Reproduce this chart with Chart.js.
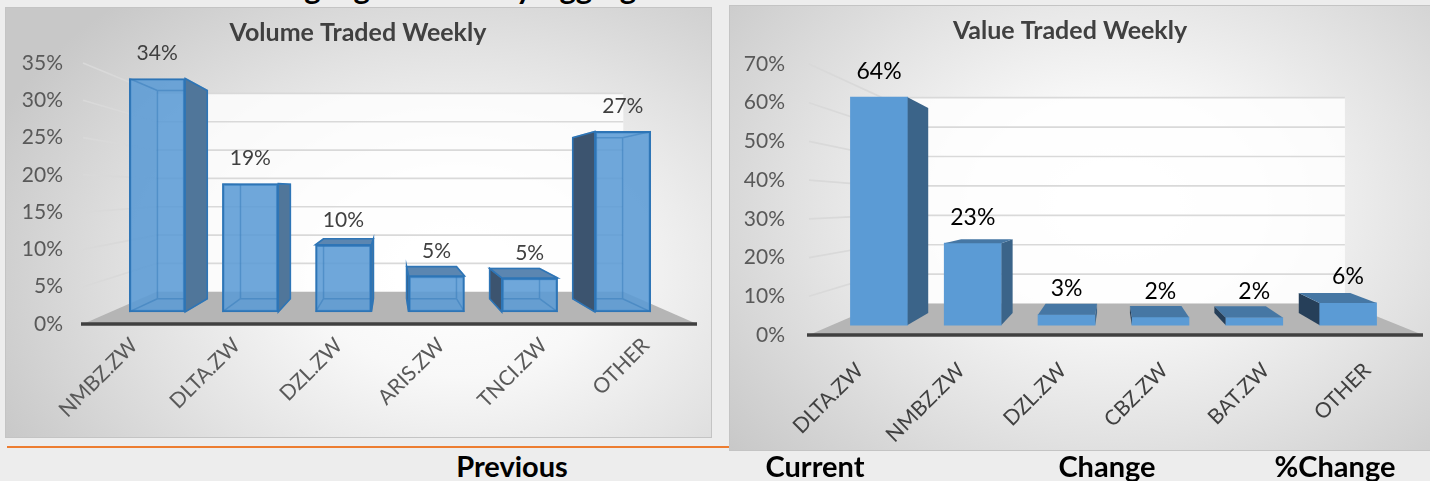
<!DOCTYPE html>
<html>
<head>
<meta charset="utf-8">
<script src="https://cdn.jsdelivr.net/npm/chart.js@4.4.1/dist/chart.umd.min.js"></script>
<style>
html,body{margin:0;padding:0;}
body{width:1430px;height:481px;overflow:hidden;background:#ededed;position:relative;font-family:Lato,'Open Sans',sans-serif;}
.panel{position:absolute;box-sizing:border-box;border:1px solid #c4c4c4;}
#p1{left:5px;top:7px;width:707px;height:431px;
 background:radial-gradient(ellipse 72% 85% at 64% 62%, #ffffff 0%, #f8f8f8 28%, #e2e2e2 62%, #c8c8c8 100%);}
#p2{left:729px;top:5px;width:706px;height:446px;
 background:radial-gradient(ellipse 72% 85% at 55% 45%, #ffffff 0%, #f8f8f8 28%, #e2e2e2 62%, #c8c8c8 100%);}
canvas{position:absolute;}
#c1{left:19px;top:7px;width:690px;height:431px;}
#c2{left:722px;top:5px;width:708px;height:446px;}
#rule{position:absolute;left:7px;top:446px;width:722px;height:2px;background:#ED7D31;}
.hdr{position:absolute;top:451px;line-height:29px;font-size:29px;font-weight:700;color:#000;transform:translateX(-50%);white-space:nowrap;}
#heading{position:absolute;top:-28.5px;left:240px;font-size:31px;line-height:31px;font-weight:700;color:#000;white-space:nowrap;}
</style>
</head>
<body>
<div id="heading">Market Highlights: Weekly Aggregates</div>
<div id="rule"></div>
<div class="panel" id="p1"></div>
<div class="panel" id="p2"></div>
<canvas id="c1" width="690" height="431"></canvas>
<canvas id="c2" width="708" height="446"></canvas>
<div class="hdr" style="left:512px">Previous</div>
<div class="hdr" style="left:815px">Current</div>
<div class="hdr" style="left:1107px">Change</div>
<div class="hdr" style="left:1335px">%Change</div>
<script>
// ---------- DATA ----------
const volumeTitle = 'Volume Traded Weekly';
const volumeCategories = ['NMBZ.ZW', 'DLTA.ZW', 'DZL.ZW', 'ARIS.ZW', 'TNCI.ZW', 'OTHER'];
const volumeValues = [34.4, 18.9, 9.9, 5.3, 5.0, 26.6];
const volumeTicks = [0, 5, 10, 15, 20, 25, 30, 35];

const valueTitle = 'Value Traded Weekly';
const valueCategories = ['DLTA.ZW', 'NMBZ.ZW', 'DZL.ZW', 'CBZ.ZW', 'BAT.ZW', 'OTHER'];
const valueValues = [63.7, 22.9, 2.9, 2.2, 2.1, 6.2];
const valueTicks = [0, 10, 20, 30, 40, 50, 60, 70];

const FONT = "Lato, 'Open Sans', sans-serif";

// position the (cropped) page heading
(function () {
  const h = document.getElementById('heading');
  const c = document.createElement('canvas').getContext('2d');
  c.font = "bold 31px Lato";
  const w = c.measureText('Market Highlights: Weekl').width;
  h.style.left = (516 - w) + 'px';
})();

function poly(ctx, pts, fill, stroke, lw) {
  ctx.beginPath();
  ctx.moveTo(pts[0][0], pts[0][1]);
  for (let i = 1; i < pts.length; i++) ctx.lineTo(pts[i][0], pts[i][1]);
  ctx.closePath();
  if (fill) { ctx.fillStyle = fill; ctx.fill(); }
  if (stroke) { ctx.strokeStyle = stroke; ctx.lineWidth = lw || 1; ctx.stroke(); }
}

function build3D(canvasId, spec) {
  const g = spec.geo, st = spec.style;
  const n = spec.categories.length;
  const yMax = spec.ticks[spec.ticks.length - 1];
  const vxC = (g.L + g.R) / 2;
  const pp = (g.B - g.T) / yMax;
  const vyC = g.B - g.eyeValue * pp;
  const zY = vyC + (g.B - vyC) * g.sF;
  const ppb = pp * g.sF;
  const catW = (g.R - g.L) / n;
  const ppx = catW * g.sF;
  const x0 = vxC + (g.L + catW / 2 - vxC) * g.sF;

  const plugin = {
    id: 'threeD',
    beforeDatasetsDraw(chart) {
      const ctx = chart.ctx, ys = chart.scales.y, ca = chart.chartArea;
      const L = ca.left, R = ca.right, B = ys.getPixelForValue(0);
      const vx = (L + R) / 2, vy = ys.getPixelForValue(g.eyeValue);
      const pr = (x, y, k) => [vx + (x - vx) * k, vy + (y - vy) * k];
      const k = g.kW;
      const [bl, bb] = pr(L, B, k);
      const [br] = pr(R, B, k);
      const [, bt] = pr(L, ys.getPixelForValue(yMax), k);
      ctx.save();
      ctx.fillStyle = 'rgba(255,255,255,0.8)';
      ctx.fillRect(bl, bt, br - bl, bb - bt);
      poly(ctx, [[L, B], [R + g.floorExt, B], [br, bb], [bl, bb]], '#b5b5b5');
      ctx.strokeStyle = '#d9d9d9';
      ctx.lineWidth = 1.7;
      spec.ticks.forEach(v => {
        if (v === 0) return;
        const y = ys.getPixelForValue(v);
        const [bx, by] = pr(L, y, k);
        ctx.beginPath();
        ctx.moveTo(L, y); ctx.lineTo(bx, by); ctx.lineTo(br, by);
        ctx.stroke();
      });
      ctx.strokeStyle = '#404040';
      ctx.lineWidth = 3.5;
      ctx.beginPath();
      ctx.moveTo(L - 2, B); ctx.lineTo(R + g.floorExt, B);
      ctx.stroke();
      ctx.restore();
    },
    afterDatasetsDraw(chart) {
      const ctx = chart.ctx, ys = chart.scales.y, ca = chart.chartArea;
      const vx = (ca.left + ca.right) / 2, vy = ys.getPixelForValue(g.eyeValue);
      const r = g.rBack;
      const meta = chart.getDatasetMeta(0);
      const data = chart.data.datasets[0].data;
      ctx.save();
      meta.data.forEach((bar, i) => {
        const p = bar.getProps(['x', 'y', 'base', 'width'], true);
        const xl = p.x - p.width / 2, xr = p.x + p.width / 2, yt = p.y, yb = p.base;
        const X = x => vx + (x - vx) * r, Y = y => vy + (y - vy) * r;
        const xl2 = X(xl), xr2 = X(xr), yt2 = Y(yt), yb2 = Y(yb);
        if (st.backEdge) {
          ctx.strokeStyle = st.backEdge; ctx.lineWidth = 1.5;
          ctx.beginPath();
          ctx.rect(xl2, yt2, xr2 - xl2, yb2 - yt2);
          ctx.moveTo(xl, yt); ctx.lineTo(xl2, yt2);
          ctx.moveTo(xl, yb); ctx.lineTo(xl2, yb2);
          ctx.moveTo(xr, yt); ctx.lineTo(xr2, yt2);
          ctx.moveTo(xr, yb); ctx.lineTo(xr2, yb2);
          ctx.stroke();
        }
        if (xr < vx) {
          poly(ctx, [[xr, yt], [xr2, yt2], [xr2, yb2], [xr, yb]], st.sideR, st.edge, 1.6);
        } else if (xl > vx) {
          poly(ctx, [[xl, yt], [xl2, yt2], [xl2, yb2], [xl, yb]], st.sideL, st.edge, 1.6);
        }
        if (yt > vy) {
          poly(ctx, [[xl, yt], [xr, yt], [xr2, yt2], [xl2, yt2]], st.top, st.edge, 1.6);
        }
        const v = data[i].y;
        ctx.fillStyle = st.label;
        ctx.font = st.labelSize + 'px ' + FONT;
        ctx.textAlign = 'center';
        ctx.textBaseline = 'middle';
        ctx.fillText(Math.round(v) + '%', p.x, yt - st.labelOffset);
      });
      ctx.restore();
    }
  };

  return new Chart(document.getElementById(canvasId), {
    type: 'bar',
    data: {
      labels: spec.categories,
      datasets: [{
        label: spec.title,
        data: spec.values.map((v, i) => ({ x: i, y: v })),
        xAxisID: 'xb',
        yAxisID: 'yb',
        backgroundColor: st.front,
        borderColor: st.border,
        borderWidth: st.borderWidth,
        borderSkipped: false,
        barThickness: ppx * g.barFrac
      }]
    },
    options: {
      responsive: false,
      animation: false,
      events: [],
      layout: { padding: { left: 0, right: g.padRight, top: 0, bottom: 0 } },
      plugins: {
        legend: { display: false },
        tooltip: { enabled: false },
        title: {
          display: true,
          text: spec.title,
          color: '#404040',
          font: { family: FONT, size: 25, weight: 'bold', lineHeight: 1.2 },
          padding: { top: g.titleTop, bottom: g.T - g.titleTop - 30 }
        }
      },
      scales: {
        x: {
          type: 'category',
          position: 'bottom',
          offset: true,
          labels: spec.categories,
          grid: { display: false, drawTicks: false },
          border: { display: false },
          ticks: { autoSkip: false, minRotation: 45, maxRotation: 45, padding: g.xPad,
                   color: st.xColor, font: { family: FONT, size: 21 } },
          afterFit(s) { s.height = g.H - g.B; }
        },
        y: {
          type: 'linear',
          position: 'left',
          min: 0,
          max: yMax,
          grid: { display: false, drawTicks: false },
          border: { display: false },
          ticks: { padding: g.yPad, color: '#595959', font: { family: FONT, size: 21 },
                   callback: v => v + '%' },
          afterBuildTicks(s) { s.ticks = spec.ticks.map(v => ({ value: v })); },
          afterFit(s) { s.width = g.L; }
        },
        xb: { type: 'linear', display: false, offset: false, grid: { offset: false },
              min: -(x0 - g.L) / ppx, max: (g.R - x0) / ppx },
        yb: { type: 'linear', display: false, min: -(g.B - zY) / ppb, max: (zY - g.T) / ppb }
      }
    },
    plugins: [plugin]
  });
}

build3D('c1', {
  title: volumeTitle,
  categories: volumeCategories,
  values: volumeValues,
  ticks: volumeTicks,
  geo: { H: 431, L: 64, R: 678, T: 56, B: 317, padRight: 12, titleTop: 11,
         eyeValue: 18, sF: 0.91, rBack: 0.892, kW: 0.76, barFrac: 0.6,
         xPad: 9, yPad: 20, floorExt: 0 },
  style: { front: 'rgba(91,155,213,0.88)', border: '#2E75B6', borderWidth: 2,
           sideR: '#50769a', sideL: '#3c546f', top: '#5b86b1', edge: '#2E75B6',
           backEdge: 'rgba(46,117,182,0.45)', label: '#404040', labelSize: 21,
           labelOffset: 25, xColor: '#595959' }
});

build3D('c2', {
  title: valueTitle,
  categories: valueCategories,
  values: valueValues,
  ticks: valueTicks,
  geo: { H: 446, L: 87, R: 696, T: 59, B: 330, padRight: 12, titleTop: 11,
         eyeValue: 33.8, sF: 0.924, rBack: 0.9, kW: 0.76, barFrac: 0.61,
         xPad: 23, yPad: 24, floorExt: 5 },
  style: { front: '#5B9BD5', border: '#5B9BD5', borderWidth: 0,
           sideR: '#3b6489', sideL: '#263f59', top: '#4677a4', edge: null,
           backEdge: null, label: '#000000', labelSize: 23,
           labelOffset: 26, xColor: '#404040' }
});
</script>
</body>
</html>
